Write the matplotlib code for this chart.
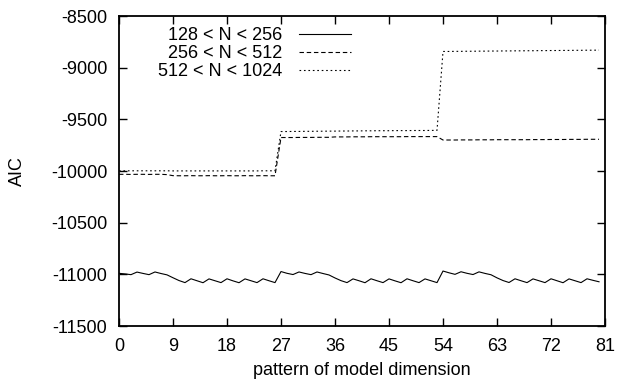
import numpy as np
import matplotlib
matplotlib.use("Agg")
import matplotlib.pyplot as plt

plt.rcParams['font.family'] = ['Liberation Sans', 'DejaVu Sans']
plt.rcParams['axes.unicode_minus'] = False

# pattern index 0..80
x = np.arange(81)

# 128 < N < 256 (solid)
aic_small = [
    -10990, -10996, -11003, -10978, -10991, -11003, -10977, -10992, -11005,
    -11033, -11060, -11080, -11043, -11062, -11081, -11044, -11062, -11080,
    -11043, -11063, -11081, -11044, -11062, -11080, -11043, -11062, -11080,
    -10973, -10990, -11002, -10977, -10991, -11003, -10977, -10992, -11006,
    -11035, -11061, -11080, -11044, -11062, -11081, -11043, -11062, -11080,
    -11044, -11063, -11081, -11043, -11062, -11080, -11044, -11062, -11080,
    -10968, -10985, -11000, -10975, -10990, -11002, -10976, -10991, -11004,
    -11034, -11060, -11079, -11043, -11062, -11080, -11044, -11062, -11080,
    -11043, -11062, -11081, -11044, -11062, -11080, -11043, -11058, -11072,
]

# 256 < N < 512 (dashed)
aic_mid = [
    -10032, -10032, -10033, -10032, -10032, -10033, -10032, -10032, -10035,
    -10045, -10046, -10046, -10045, -10046, -10046, -10045, -10046, -10046,
    -10045, -10046, -10046, -10045, -10046, -10046, -10045, -10046, -10046,
    -9676, -9676, -9676, -9675, -9675, -9675, -9674, -9674, -9674,
    -9670, -9670, -9670, -9669, -9669, -9669, -9668, -9668, -9668,
    -9668, -9668, -9668, -9667, -9667, -9667, -9667, -9667, -9667,
    -9700, -9700, -9700, -9699, -9699, -9699, -9698, -9698, -9698,
    -9697, -9697, -9697, -9697, -9697, -9697, -9696, -9696, -9696,
    -9695, -9695, -9695, -9694, -9694, -9694, -9693, -9693, -9693,
]

# 512 < N < 1024 (dotted)
aic_large = [
    -9998, -9998, -9998, -9998, -9998, -9998, -9998, -9998, -9998,
    -9999, -9999, -9999, -9999, -9999, -9999, -9999, -9999, -9999,
    -9999, -9999, -9999, -9999, -9999, -9999, -9998, -9998, -9998,
    -9618, -9618, -9617, -9617, -9616, -9616, -9615, -9615, -9614,
    -9614, -9613, -9613, -9612, -9612, -9611, -9611, -9610, -9610,
    -9610, -9609, -9609, -9609, -9608, -9608, -9608, -9607, -9607,
    -8843, -8843, -8842, -8842, -8841, -8841, -8840, -8840, -8839,
    -8839, -8838, -8838, -8837, -8837, -8836, -8836, -8835, -8835,
    -8834, -8834, -8833, -8833, -8832, -8832, -8831, -8831, -8830,
]

xticks = [0, 9, 18, 27, 36, 45, 54, 63, 72, 81]
yticks = [-11500, -11000, -10500, -10000, -9500, -9000, -8500]

fig = plt.figure(figsize=(6.22, 3.83), dpi=100)
ax = fig.add_axes([0.1913, 0.1488, 0.7814, 0.8094])

ax.plot(x, aic_small, color="black", lw=0.8, label="128 < N < 256")
ax.plot(x, aic_mid, color="black", lw=0.8, dashes=(4, 2.5), label="256 < N < 512")
ax.plot(x, aic_large, color="black", lw=0.8, dashes=(1.5, 2.5), label="512 < N < 1024")

ax.set_xlim(0, 81)
ax.set_ylim(-11500, -8500)
ax.set_xticks(xticks)
ax.set_yticks(yticks)
ax.tick_params(direction="in", length=5.5, width=1, top=True, right=True,
               labelsize=13)
ax.tick_params(axis="x", pad=8.5)
ax.tick_params(axis="y", pad=8.5)
for s in ax.spines.values():
    s.set_linewidth(1.3)

ax.set_xlabel("pattern of model dimension", fontsize=13, labelpad=5)
ax.set_ylabel("AIC", fontsize=13, labelpad=18)

ax.legend(loc="upper right", bbox_to_anchor=(0.5643, 0.929),
          bbox_transform=fig.transFigure, frameon=False,
          markerfirst=False, fontsize=13, handlelength=2.9,
          labelspacing=0.06, handletextpad=0.9, borderaxespad=0, borderpad=0)

fig.savefig("out.png", dpi=100)
